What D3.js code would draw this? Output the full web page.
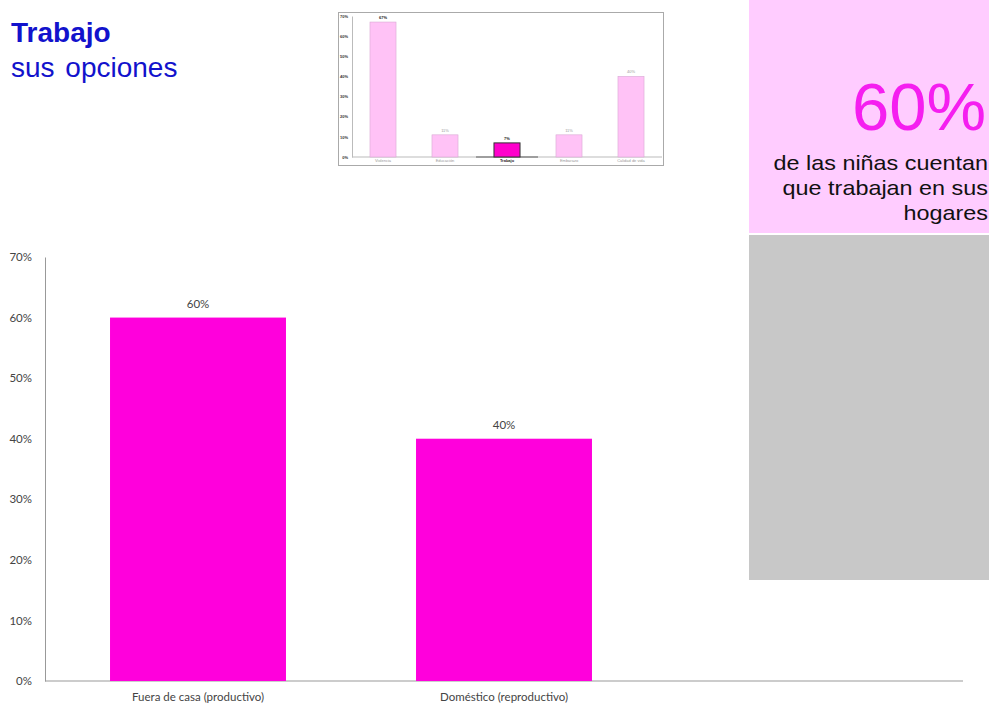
<!DOCTYPE html>
<html>
<head>
<meta charset="utf-8">
<script src="https://cdn.jsdelivr.net/npm/d3@7"></script>
<style>
  body { margin: 0; background: #fff; }
  svg { display: block; }
</style>
</head>
<body>
<svg id="chart" width="989" height="704"></svg>
<script>
// main chart data
const categories = ['Fuera de casa (productivo)', 'Doméstico (reproductivo)'];
const values = [0.60, 0.40];
const yTicks = [0, 0.1, 0.2, 0.3, 0.4, 0.5, 0.6, 0.7];

// thumbnail chart data (overview of all options)
const thumbCategories = ['Violencia', 'Educación', 'Trabajo', 'Embarazo', 'Calidad de vida'];
const thumbValues = [0.67, 0.11, 0.07, 0.11, 0.40];
const thumbHighlight = 'Trabajo';

// side note
const bigNumber = '60%';
const noteLines = ['de las niñas cuentan', 'que trabajan en sus', 'hogares'];

const svg = d3.select('#chart');
const pct = d3.format('.0%');

// ---- title
svg.append('text')
  .attr('x', 11).attr('y', 42)
  .attr('font-family', 'Liberation Sans, Arial, sans-serif')
  .attr('font-size', 28).attr('font-weight', 'bold')
  .attr('fill', '#1212cc')
  .text('Trabajo');
svg.append('text')
  .attr('x', 11).attr('y', 77)
  .attr('font-family', 'Liberation Sans, Arial, sans-serif')
  .attr('font-size', 28)
  .attr('fill', '#1212cc')
  .attr('word-spacing', 3)
  .text('sus opciones');

// ---- side panels
svg.append('rect').attr('x', 749).attr('y', 0).attr('width', 240).attr('height', 233).attr('fill', '#ffccff');
svg.append('rect').attr('x', 749).attr('y', 235).attr('width', 240).attr('height', 345).attr('fill', '#c8c8c8');

svg.append('text')
  .attr('x', 986).attr('y', 130)
  .attr('text-anchor', 'end')
  .attr('font-family', 'Liberation Sans, Arial, sans-serif')
  .attr('font-size', 67)
  .attr('fill', '#f51ef0')
  .text(bigNumber);

const note = svg.append('g').attr('transform', 'translate(988,0) scale(1.17,1)');
note.selectAll('text')
  .data(noteLines)
  .join('text')
  .attr('x', 0)
  .attr('y', (d, i) => 170 + i * 25)
  .attr('text-anchor', 'end')
  .attr('font-family', 'Liberation Sans, Arial, sans-serif')
  .attr('font-size', 20)
  .attr('fill', '#111')
  .text(d => d);

// ---- main bar chart
const margin = { left: 45, right: 26, top: 257, bottom: 23 };
const slots = 3; // the plot leaves room for a third, empty slot
const plotW = 989 - margin.left - margin.right;
const step = plotW / slots;

const x = d3.scaleBand()
  .domain(categories)
  .range([margin.left, margin.left + step * categories.length]);
const barW = x.bandwidth() * 0.575;

const y = d3.scaleLinear()
  .domain([0, 0.7])
  .range([704 - margin.bottom, margin.top]);

const fontMain = 'Lato, Open Sans, sans-serif';

const yAxis = svg.append('g')
  .attr('transform', `translate(${margin.left},0)`)
  .call(d3.axisLeft(y).tickValues(yTicks).tickFormat(pct).tickSize(0).tickPadding(13));
yAxis.select('.domain').attr('stroke', '#999');
yAxis.selectAll('text')
  .attr('font-family', fontMain).attr('font-size', 11.5).attr('fill', '#444');

svg.append('line')
  .attr('x1', margin.left).attr('x2', 989 - margin.right)
  .attr('y1', y(0)).attr('y2', y(0))
  .attr('stroke', '#999');

svg.append('g')
  .selectAll('rect')
  .data(values)
  .join('rect')
  .attr('x', (d, i) => x(categories[i]) + (x.bandwidth() - barW) / 2)
  .attr('y', d => y(d))
  .attr('width', barW)
  .attr('height', d => y(0) - y(d))
  .attr('fill', '#ff00dc');

svg.append('g')
  .selectAll('text')
  .data(values)
  .join('text')
  .attr('x', (d, i) => x(categories[i]) + x.bandwidth() / 2)
  .attr('y', d => y(d) - 10)
  .attr('text-anchor', 'middle')
  .attr('font-family', fontMain).attr('font-size', 11.5).attr('fill', '#444')
  .text(d => pct(d));

const xAxis = svg.append('g')
  .attr('transform', `translate(0,${y(0)})`)
  .call(d3.axisBottom(x).tickSize(0).tickPadding(12));
xAxis.select('.domain').remove();
xAxis.selectAll('text')
  .attr('font-family', fontMain).attr('font-size', 11.5).attr('fill', '#444');

// ---- thumbnail of the overview chart
const thumb = svg.append('g');
thumb.append('rect')
  .attr('x', 338.5).attr('y', 12.5).attr('width', 325).attr('height', 153)
  .attr('fill', '#fff').attr('stroke', '#aaa');

const tx = d3.scaleBand()
  .domain(thumbCategories)
  .range([352, 662])
  .paddingInner(0.58).paddingOuter(0.29);
const ty = d3.scaleLinear().domain([0, 0.7]).range([157, 16]);

const tAxis = thumb.append('g')
  .attr('transform', 'translate(352,0)')
  .call(d3.axisLeft(ty).tickValues(yTicks).tickFormat(pct).tickSize(0).tickPadding(4));
tAxis.select('.domain').attr('stroke', '#bbb');
tAxis.selectAll('text')
  .attr('font-family', 'Liberation Sans, Arial, sans-serif')
  .attr('font-size', 4).attr('font-weight', 'bold').attr('fill', '#333');

thumb.append('line')
  .attr('x1', 352).attr('x2', 662).attr('y1', ty(0)).attr('y2', ty(0))
  .attr('stroke', '#bbb');
thumb.append('line')
  .attr('x1', tx(thumbHighlight) - tx.step() * 0.29).attr('x2', tx(thumbHighlight) + tx.bandwidth() + tx.step() * 0.29)
  .attr('y1', ty(0)).attr('y2', ty(0))
  .attr('stroke', '#888').attr('stroke-width', 1.5);

thumb.selectAll('rect.tbar')
  .data(thumbValues)
  .join('rect')
  .attr('class', 'tbar')
  .attr('x', (d, i) => tx(thumbCategories[i]))
  .attr('y', d => ty(d))
  .attr('width', tx.bandwidth())
  .attr('height', d => ty(0) - ty(d))
  .attr('fill', (d, i) => thumbCategories[i] === thumbHighlight ? '#ff00cc' : '#ffc2f6')
  .attr('stroke', (d, i) => thumbCategories[i] === thumbHighlight ? '#333' : '#d8a8d4')
  .attr('stroke-width', (d, i) => thumbCategories[i] === thumbHighlight ? 1 : 0.6);

thumb.selectAll('text.tval')
  .data(thumbValues)
  .join('text')
  .attr('class', 'tval')
  .attr('x', (d, i) => tx(thumbCategories[i]) + tx.bandwidth() / 2)
  .attr('y', d => ty(d) - 3)
  .attr('text-anchor', 'middle')
  .attr('font-family', 'Liberation Sans, Arial, sans-serif')
  .attr('font-size', 4)
  .attr('font-weight', (d, i) => (i === 0 || thumbCategories[i] === thumbHighlight) ? 'bold' : 'normal')
  .attr('fill', (d, i) => (i === 0 || thumbCategories[i] === thumbHighlight) ? '#222' : '#999')
  .text(d => pct(d));

thumb.selectAll('text.tcat')
  .data(thumbCategories)
  .join('text')
  .attr('class', 'tcat')
  .attr('x', d => tx(d) + tx.bandwidth() / 2)
  .attr('y', 162)
  .attr('text-anchor', 'middle')
  .attr('font-family', 'Liberation Sans, Arial, sans-serif')
  .attr('font-size', 4)
  .attr('font-weight', d => d === thumbHighlight ? 'bold' : 'normal')
  .attr('fill', d => d === thumbHighlight ? '#222' : '#999')
  .text(d => d);
</script>
</body>
</html>
